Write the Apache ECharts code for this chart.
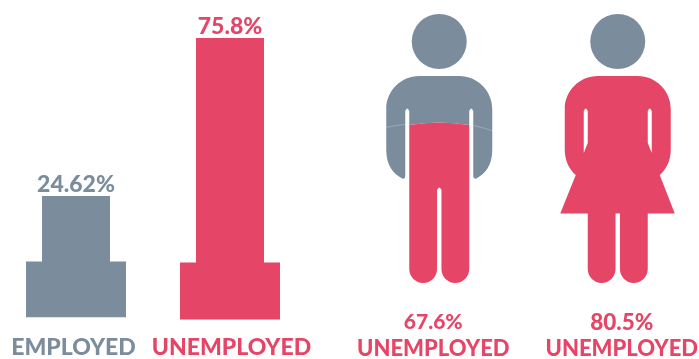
<!DOCTYPE html>
<html>
<head>
<meta charset="utf-8">
<style>html,body{margin:0;padding:0;background:#fff}#chart{width:699px;height:359px}</style>
<script src="https://cdn.jsdelivr.net/npm/echarts@6/dist/echarts.min.js"></script>
</head>
<body>
<div id="chart"></div>
<script>
// Employment shares
const barCategories = ['EMPLOYED', 'UNEMPLOYED'];
const barValues = [24.62, 75.8];
const barPedestalTop = [3.4, 3.1];
const barPedestalBottom = [-14.7, -15.4];
const figureCategories = ['MEN', 'WOMEN'];
const figureValues = [67.6, 80.5];
const figureCaption = 'UNEMPLOYED';

const GREY = '#7b8c9d';
const RED = '#e54566';
const FONT = 'Lato';

const K = 0.55;
function corner(ctx, x0, y0, x1, y1, verticalFirst) {
  if (verticalFirst) {
    ctx.bezierCurveTo(x0, y0 + (y1 - y0) * K, x1 - (x1 - x0) * K, y1, x1, y1);
  } else {
    ctx.bezierCurveTo(x0 + (x1 - x0) * K, y0, x1, y1 - (y1 - y0) * K, x1, y1);
  }
}

// Rounded leg pair shared by both silhouettes, traced left-to-right along the feet.
function traceLegs(ctx, cx, base, sign) {
  ctx.lineTo(cx + sign * 30, base - 14);
  corner(ctx, cx + sign * 30, base - 14, cx + sign * 16, base, true);
  corner(ctx, cx + sign * 16, base, cx + sign * 2.2, base - 14, false);
}

// Man: arms and chest down to the level line
echarts.graphic.registerShape('manUpper', echarts.graphic.extendShape({
  shape: { cx: 0, base: 0, level: 0 },
  buildPath(ctx, s) {
    const { cx, base, level } = s;
    ctx.moveTo(cx - 20, base - 207);
    ctx.lineTo(cx + 20, base - 207);
    corner(ctx, cx + 20, base - 207, cx + 53, base - 174, false);
    ctx.lineTo(cx + 53, base - 133);
    ctx.bezierCurveTo(cx + 53, base - 118, cx + 46, base - 109, cx + 37, base - 104.5);
    ctx.quadraticCurveTo(cx + 34, base - 103.5, cx + 34, base - 107);
    ctx.lineTo(cx + 34, base - 172);
    ctx.quadraticCurveTo(cx + 32, base - 177, cx + 30, base - 172);
    ctx.lineTo(cx + 30, level + 2.5);
    ctx.quadraticCurveTo(cx, level - 2.5, cx - 30, level + 2.5);
    ctx.lineTo(cx - 30, base - 172);
    ctx.quadraticCurveTo(cx - 32, base - 177, cx - 34, base - 172);
    ctx.lineTo(cx - 34, base - 107);
    ctx.quadraticCurveTo(cx - 34, base - 103.5, cx - 37, base - 104.5);
    ctx.bezierCurveTo(cx - 46, base - 109, cx - 53, base - 118, cx - 53, base - 133);
    ctx.lineTo(cx - 53, base - 174);
    corner(ctx, cx - 53, base - 174, cx - 20, base - 207, true);
    ctx.closePath();
  }
}));

// Man: torso and legs, topped by the curved level line
echarts.graphic.registerShape('manLower', echarts.graphic.extendShape({
  shape: { cx: 0, base: 0, level: 0 },
  buildPath(ctx, s) {
    const { cx, base, level } = s;
    ctx.moveTo(cx - 30, level + 2.5);
    ctx.quadraticCurveTo(cx, level - 2.5, cx + 30, level + 2.5);
    traceLegs(ctx, cx, base, 1);
    ctx.lineTo(cx + 2.2, base - 93);
    ctx.quadraticCurveTo(cx, base - 98, cx - 2.2, base - 93);
    ctx.lineTo(cx - 2.2, base - 14);
    corner(ctx, cx - 2.2, base - 14, cx - 16, base, true);
    corner(ctx, cx - 16, base, cx - 30, base - 14, false);
    ctx.closePath();
  }
}));

// Man: faint continuation of the level line across the arms
echarts.graphic.registerShape('manRipple', echarts.graphic.extendShape({
  shape: { cx: 0, level: 0 },
  style: { fill: null },
  buildPath(ctx, s) {
    const { cx, level } = s;
    ctx.moveTo(cx - 53, level + 5);
    ctx.quadraticCurveTo(cx - 44, level + 3, cx - 34, level + 2);
    ctx.moveTo(cx + 34, level + 3);
    ctx.quadraticCurveTo(cx + 44, level + 5, cx + 53, level + 8.5);
  }
}));

// Woman: dress silhouette with the two arm slits cut out
echarts.graphic.registerShape('womanBody', echarts.graphic.extendShape({
  shape: { cx: 0, base: 0 },
  buildPath(ctx, s) {
    const { cx, base } = s;
    ctx.moveTo(cx - 20, base - 207);
    ctx.lineTo(cx + 20, base - 207);
    corner(ctx, cx + 20, base - 207, cx + 53, base - 174, false);
    ctx.lineTo(cx + 53, base - 133);
    ctx.bezierCurveTo(cx + 53, base - 122, cx + 48, base - 113, cx + 42, base - 108);
    ctx.lineTo(cx + 57, base - 69.5);
    ctx.lineTo(cx + 30, base - 69.5);
    traceLegs(ctx, cx, base, 1);
    ctx.lineTo(cx + 2.2, base - 69.5);
    ctx.lineTo(cx - 2.2, base - 69.5);
    ctx.lineTo(cx - 2.2, base - 14);
    corner(ctx, cx - 2.2, base - 14, cx - 16, base, true);
    corner(ctx, cx - 16, base, cx - 30, base - 14, false);
    ctx.lineTo(cx - 30, base - 69.5);
    ctx.lineTo(cx - 57.5, base - 69.5);
    ctx.lineTo(cx - 42, base - 108);
    ctx.bezierCurveTo(cx - 48, base - 113, cx - 53, base - 122, cx - 53, base - 133);
    ctx.lineTo(cx - 53, base - 174);
    corner(ctx, cx - 53, base - 174, cx - 20, base - 207, true);
    ctx.closePath();

    ctx.moveTo(cx + 30, base - 172);
    ctx.lineTo(cx + 30, base - 140);
    ctx.lineTo(cx + 34, base - 130);
    ctx.lineTo(cx + 34, base - 172);
    ctx.quadraticCurveTo(cx + 32, base - 177, cx + 30, base - 172);
    ctx.closePath();

    ctx.moveTo(cx - 34, base - 172);
    ctx.lineTo(cx - 34, base - 130);
    ctx.lineTo(cx - 30, base - 140);
    ctx.lineTo(cx - 30, base - 172);
    ctx.quadraticCurveTo(cx - 32, base - 177, cx - 34, base - 172);
    ctx.closePath();
  }
}));

function captionText(x, y, text, fill, size) {
  return {
    type: 'text',
    style: { x, y, text, fill, font: '900 ' + size + 'px ' + FONT, align: 'center', verticalAlign: 'middle' }
  };
}

function renderFigure(params, api) {
  const category = api.value(0);
  const value = api.value(1);
  const [cx, level] = api.coord([category, value]);
  const base = params.coordSys.y + params.coordSys.height;
  const top = params.coordSys.y;
  const head = { type: 'circle', shape: { cx, cy: top + 27.5, r: 27.5 }, style: { fill: GREY } };
  const labelShift = category === 0 ? -6 : 4;
  const texts = [
    captionText(cx + labelShift, base + (category === 0 ? 39 : 40), value + '%', RED, category === 0 ? 21 : 22.5),
    captionText(cx + labelShift, base + 66, figureCaption, RED, 22)
  ];
  const body = category === 0
    ? [
        { type: 'manUpper', shape: { cx, base, level }, style: { fill: GREY } },
        { type: 'manRipple', shape: { cx, level }, style: { fill: null, stroke: 'rgba(255,255,255,0.3)', lineWidth: 0.8 } },
        { type: 'manLower', shape: { cx, base, level }, style: { fill: RED } }
      ]
    : [
        {
          type: 'womanBody',
          shape: { cx, base },
          style: { fill: RED },
          clipPath: { type: 'rect', shape: { x: cx - 70, y: level, width: 140, height: base - level + 2 } }
        }
      ];
  return { type: 'group', children: [head].concat(body, texts) };
}

function renderPedestal(params, api) {
  const i = api.value(0);
  const [cx, yTop] = api.coord([i, api.value(1)]);
  const yBottom = api.coord([i, api.value(2)])[1];
  return {
    type: 'rect',
    shape: { x: cx - 50, y: yTop, width: 100, height: yBottom - yTop },
    style: { fill: i === 0 ? GREY : RED }
  };
}

const chart = echarts.init(document.getElementById('chart'));
chart.setOption({
  animation: false,
  backgroundColor: '#ffffff',
  grid: [
    { left: -1, top: 38, width: 308, height: 284, outerBoundsMode: 'none' },
    { left: 350, top: 14, width: 357, height: 269, outerBoundsMode: 'none' }
  ],
  xAxis: [
    {
      type: 'category',
      gridIndex: 0,
      data: [
        { value: barCategories[0], textStyle: { color: GREY, padding: [0, 5, 0, 0] } },
        { value: barCategories[1], textStyle: { color: RED, padding: [0, 0, 0, 3] } }
      ],
      axisLine: { show: false },
      axisTick: { show: false },
      axisLabel: { fontFamily: FONT, fontWeight: 900, fontSize: 23, margin: 14, interval: 0 }
    },
    {
      type: 'category',
      gridIndex: 1,
      data: figureCategories,
      show: false
    }
  ],
  yAxis: [
    { type: 'value', gridIndex: 0, min: -16.2, max: 75.8, show: false },
    { type: 'value', gridIndex: 1, min: 27, max: 95, show: false }
  ],
  series: [
    {
      type: 'custom',
      xAxisIndex: 0,
      yAxisIndex: 0,
      clip: false,
      renderItem: renderPedestal,
      encode: { x: 0, y: [1, 2] },
      data: barCategories.map((_, i) => [i, barPedestalTop[i], barPedestalBottom[i]])
    },
    {
      type: 'bar',
      xAxisIndex: 0,
      yAxisIndex: 0,
      barWidth: 68,
      data: barValues.map((v, i) => ({
        value: v,
        itemStyle: { color: i === 0 ? GREY : RED },
        label: { color: i === 0 ? GREY : RED }
      })),
      label: {
        show: true,
        position: 'top',
        distance: 0,
        formatter: '{c}%',
        fontFamily: FONT,
        fontWeight: 900,
        fontSize: 23
      }
    },
    {
      type: 'custom',
      xAxisIndex: 1,
      yAxisIndex: 1,
      clip: false,
      renderItem: renderFigure,
      encode: { x: 0, y: 1 },
      data: figureValues.map((v, i) => [i, v])
    }
  ]
});
</script>
</body>
</html>
